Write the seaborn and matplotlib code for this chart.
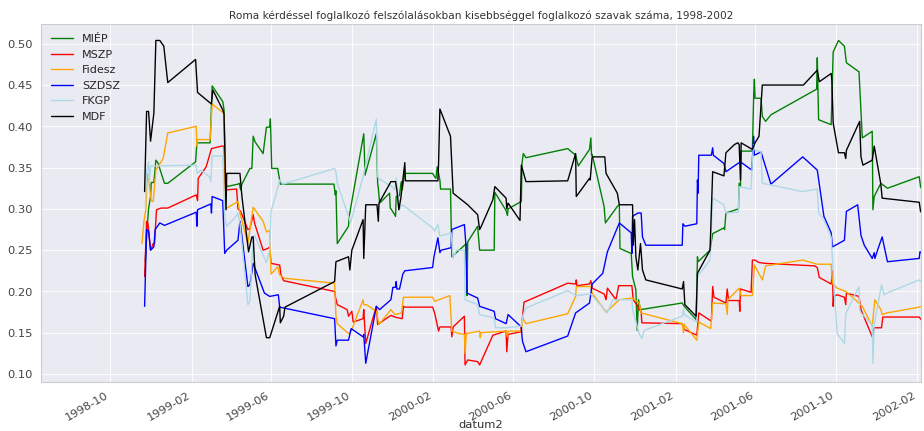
import pandas as pd
import matplotlib
matplotlib.use("Agg")
import matplotlib.pyplot as plt
import matplotlib.dates as mdates
import seaborn as sns

# szavak aranya partonkent, datum szerint (leolvasott ertekek)
miep_dates = ["1998-11-23", "1998-11-26", "1998-11-28", "1998-12-01", "1998-12-02", "1998-12-06", "1998-12-09",
              "1998-12-12", "1998-12-22", "1998-12-27", "1999-02-07", "1999-02-09", "1999-03-01", "1999-03-04",
              "1999-03-20", "1999-03-22", "1999-03-24", "1999-03-26", "1999-04-12", "1999-04-14", "1999-04-16",
              "1999-04-18", "1999-04-30", "1999-05-03", "1999-05-05", "1999-05-08", "1999-05-20", "1999-05-25",
              "1999-05-30", "1999-05-31", "1999-06-02", "1999-06-11", "1999-06-14", "1999-06-15", "1999-09-04",
              "1999-09-06", "1999-09-07", "1999-09-09", "1999-09-26", "1999-09-27", "1999-10-19", "1999-10-21",
              "1999-11-07", "1999-11-09", "1999-11-10", "1999-11-12", "1999-11-27", "1999-11-28", "1999-11-30",
              "1999-12-03", "1999-12-05", "1999-12-06", "1999-12-07", "1999-12-12", "1999-12-14", "1999-12-15",
              "1999-12-16", "1999-12-20", "2000-01-31", "2000-02-03", "2000-02-05", "2000-02-07", "2000-02-11",
              "2000-02-12", "2000-02-27", "2000-02-29", "2000-03-22", "2000-03-23", "2000-03-24", "2000-04-08",
              "2000-04-11", "2000-05-03", "2000-05-04", "2000-05-21", "2000-05-23", "2000-05-24", "2000-06-13",
              "2000-06-14", "2000-06-16", "2000-06-20", "2000-08-22", "2000-09-03", "2000-09-07", "2000-09-24",
              "2000-09-26", "2000-09-27", "2000-09-28", "2000-10-16", "2000-10-18", "2000-11-05", "2000-11-08",
              "2000-11-09", "2000-11-26", "2000-11-28", "2000-12-03", "2000-12-05", "2000-12-07", "2000-12-10",
              "2001-02-11", "2001-02-14", "2001-03-04", "2001-03-06", "2001-03-07", "2001-03-25", "2001-03-29",
              "2001-04-15", "2001-04-16", "2001-04-18", "2001-05-07", "2001-05-08", "2001-05-10", "2001-05-11",
              "2001-05-28", "2001-05-30", "2001-05-31", "2001-06-01", "2001-06-10", "2001-06-12", "2001-06-17",
              "2001-06-25", "2001-09-02", "2001-09-03", "2001-09-05", "2001-09-24", "2001-09-27", "2001-10-05",
              "2001-10-14", "2001-10-17", "2001-11-05", "2001-11-08", "2001-11-10", "2001-11-25", "2001-11-26",
              "2001-11-28", "2001-12-08", "2001-12-18", "2002-02-04", "2002-02-06", "2002-02-07"]
miep_vals = [0.236, 0.280, 0.300, 0.315, 0.332, 0.332, 0.359, 0.356, 0.331, 0.331, 0.357, 0.380, 0.380, 0.449,
             0.430, 0.420, 0.343, 0.327, 0.330, 0.331, 0.323, 0.330, 0.349, 0.349, 0.388, 0.381, 0.367, 0.399,
             0.399, 0.409, 0.349, 0.349, 0.335, 0.330, 0.330, 0.317, 0.322, 0.258, 0.279, 0.291, 0.391, 0.341,
             0.391, 0.331, 0.325, 0.307, 0.319, 0.301, 0.299, 0.295, 0.293, 0.291, 0.315, 0.316, 0.330, 0.333,
             0.323, 0.343, 0.343, 0.339, 0.337, 0.351, 0.335, 0.324, 0.324, 0.242, 0.258, 0.195, 0.260, 0.279,
             0.250, 0.250, 0.320, 0.298, 0.292, 0.300, 0.309, 0.355, 0.367, 0.362, 0.373, 0.365, 0.352, 0.372,
             0.386, 0.365, 0.366, 0.303, 0.283, 0.303, 0.305, 0.252, 0.246, 0.218, 0.202, 0.153, 0.190, 0.178,
             0.186, 0.182, 0.166, 0.242, 0.236, 0.250, 0.270, 0.277, 0.275, 0.295, 0.300, 0.331, 0.327, 0.370,
             0.370, 0.440, 0.457, 0.434, 0.434, 0.412, 0.406, 0.414, 0.445, 0.483, 0.408, 0.402, 0.490, 0.504,
             0.497, 0.477, 0.466, 0.418, 0.386, 0.394, 0.299, 0.315, 0.331, 0.325, 0.339, 0.327, 0.325]

mszp_dates = ["1998-11-22", "1998-11-25", "1998-11-27", "1998-12-01", "1998-12-05", "1998-12-07", "1998-12-10",
              "1998-12-17", "1998-12-27", "1999-02-08", "1999-02-10", "1999-02-11", "1999-02-23", "1999-03-03",
              "1999-03-18", "1999-03-22", "1999-03-24", "1999-04-10", "1999-04-12", "1999-04-16", "1999-04-27",
              "1999-04-30", "1999-05-05", "1999-05-07", "1999-05-20", "1999-05-27", "1999-05-30", "1999-06-01",
              "1999-06-14", "1999-06-16", "1999-06-20", "1999-09-05", "1999-09-06", "1999-09-09", "1999-09-24",
              "1999-09-26", "1999-10-01", "1999-10-03", "1999-10-18", "1999-10-19", "1999-10-22", "1999-11-07",
              "1999-11-09", "1999-11-29", "1999-12-05", "1999-12-16", "1999-12-18", "1999-12-20", "2000-01-31",
              "2000-02-03", "2000-02-09", "2000-02-11", "2000-02-28", "2000-02-29", "2000-03-02", "2000-03-11",
              "2000-03-19", "2000-03-20", "2000-03-24", "2000-04-08", "2000-04-11", "2000-05-01", "2000-05-21",
              "2000-05-22", "2000-05-24", "2000-06-12", "2000-06-14", "2000-06-17", "2000-08-22", "2000-09-03",
              "2000-09-04", "2000-09-05", "2000-09-24", "2000-09-26", "2000-09-28", "2000-10-16", "2000-10-19",
              "2000-10-21", "2000-11-03", "2000-11-07", "2000-11-27", "2000-11-29", "2000-12-06", "2000-12-08",
              "2000-12-11", "2000-12-12", "2001-02-11", "2001-02-14", "2001-03-05", "2001-03-08", "2001-03-27",
              "2001-03-29", "2001-03-31", "2001-04-18", "2001-04-20", "2001-04-22", "2001-05-08", "2001-05-09",
              "2001-05-10", "2001-05-26", "2001-05-28", "2001-06-01", "2001-06-07", "2001-06-17", "2001-08-30",
              "2001-09-03", "2001-09-06", "2001-09-24", "2001-09-26", "2001-09-27", "2001-09-28", "2001-10-03",
              "2001-10-14", "2001-10-16", "2001-10-17", "2001-11-05", "2001-11-08", "2001-11-25", "2001-11-28",
              "2001-12-09", "2001-12-11", "2002-02-04", "2002-02-07"]
mszp_vals = [0.218, 0.285, 0.283, 0.250, 0.258, 0.258, 0.299, 0.301, 0.301, 0.317, 0.310, 0.337, 0.351, 0.373,
             0.376, 0.376, 0.323, 0.324, 0.300, 0.297, 0.275, 0.276, 0.293, 0.283, 0.250, 0.252, 0.254, 0.234,
             0.232, 0.220, 0.213, 0.200, 0.194, 0.184, 0.178, 0.170, 0.176, 0.163, 0.167, 0.178, 0.137, 0.182,
             0.160, 0.171, 0.169, 0.167, 0.182, 0.181, 0.181, 0.174, 0.152, 0.157, 0.157, 0.145, 0.157, 0.164,
             0.170, 0.111, 0.117, 0.115, 0.111, 0.147, 0.152, 0.127, 0.148, 0.151, 0.163, 0.187, 0.210, 0.209,
             0.214, 0.207, 0.209, 0.213, 0.204, 0.197, 0.190, 0.204, 0.190, 0.207, 0.207, 0.190, 0.182, 0.178,
             0.176, 0.162, 0.161, 0.154, 0.147, 0.174, 0.164, 0.206, 0.193, 0.186, 0.203, 0.189, 0.189, 0.176,
             0.203, 0.199, 0.238, 0.238, 0.235, 0.234, 0.231, 0.229, 0.217, 0.209, 0.225, 0.182, 0.194, 0.196,
             0.193, 0.184, 0.198, 0.194, 0.178, 0.145, 0.156, 0.156, 0.169, 0.169, 0.166]

fidesz_dates = ["1998-11-18", "1998-11-21", "1998-11-24", "1998-11-26", "1998-11-29", "1998-12-02", "1998-12-05",
                "1998-12-09", "1998-12-20", "1998-12-27", "1999-02-08", "1999-02-09", "1999-02-10", "1999-03-01",
                "1999-03-04", "1999-03-20", "1999-03-22", "1999-03-24", "1999-04-12", "1999-04-15", "1999-04-27",
                "1999-05-05", "1999-05-20", "1999-05-25", "1999-05-30", "1999-06-01", "1999-06-11", "1999-06-14",
                "1999-06-21", "1999-09-05", "1999-09-07", "1999-09-09", "1999-09-26", "1999-09-30", "1999-10-18",
                "1999-10-19", "1999-10-23", "1999-11-07", "1999-11-11", "1999-11-29", "1999-12-05", "1999-12-15",
                "1999-12-18", "2000-01-31", "2000-02-03", "2000-02-26", "2000-02-29", "2000-03-11", "2000-03-19",
                "2000-03-20", "2000-03-22", "2000-04-11", "2000-04-12", "2000-04-13", "2000-05-21", "2000-05-23",
                "2000-05-24", "2000-06-13", "2000-06-15", "2000-06-20", "2000-08-22", "2000-09-03", "2000-09-04",
                "2000-09-26", "2000-09-28", "2000-10-19", "2000-11-08", "2000-11-27", "2000-12-01", "2000-12-08",
                "2000-12-11", "2001-02-11", "2001-02-13", "2001-02-14", "2001-03-05", "2001-03-08", "2001-03-26",
                "2001-03-29", "2001-04-18", "2001-04-20", "2001-04-21", "2001-05-08", "2001-05-11", "2001-05-28",
                "2001-05-31", "2001-06-12", "2001-06-17", "2001-08-12", "2001-09-03", "2001-09-24", "2001-09-26",
                "2001-10-03", "2001-10-16", "2001-11-05", "2001-11-10", "2001-11-25", "2001-11-29", "2001-12-08",
                "2001-12-10", "2001-12-17", "2002-02-04", "2002-02-07"]
fidesz_vals = [0.258, 0.285, 0.300, 0.343, 0.330, 0.310, 0.309, 0.347, 0.361, 0.392, 0.400, 0.376, 0.384, 0.384,
               0.427, 0.417, 0.415, 0.300, 0.309, 0.295, 0.258, 0.302, 0.285, 0.272, 0.274, 0.221, 0.230, 0.220,
               0.216, 0.210, 0.170, 0.161, 0.149, 0.152, 0.190, 0.184, 0.184, 0.176, 0.160, 0.178, 0.172, 0.174,
               0.193, 0.193, 0.188, 0.195, 0.152, 0.149, 0.148, 0.125, 0.149, 0.152, 0.144, 0.150, 0.152, 0.145,
               0.152, 0.152, 0.168, 0.161, 0.173, 0.194, 0.206, 0.206, 0.198, 0.175, 0.190, 0.192, 0.190, 0.186,
               0.174, 0.161, 0.150, 0.160, 0.141, 0.163, 0.155, 0.186, 0.185, 0.172, 0.190, 0.204, 0.195, 0.195,
               0.232, 0.214, 0.231, 0.238, 0.233, 0.233, 0.210, 0.204, 0.200, 0.186, 0.182, 0.158, 0.190, 0.178,
               0.172, 0.174, 0.181, 0.182]

szdsz_dates = ["1998-11-22", "1998-11-25", "1998-11-28", "1998-12-01", "1998-12-06", "1998-12-08", "1998-12-15",
               "1998-12-22", "1999-02-08", "1999-02-09", "1999-02-10", "1999-03-02", "1999-03-03", "1999-03-04",
               "1999-03-20", "1999-03-23", "1999-03-26", "1999-04-12", "1999-04-15", "1999-04-16", "1999-04-27",
               "1999-04-30", "1999-05-05", "1999-05-22", "1999-05-30", "1999-06-12", "1999-06-14", "1999-09-05",
               "1999-09-07", "1999-09-09", "1999-09-26", "1999-09-30", "1999-10-18", "1999-10-19", "1999-10-22",
               "1999-11-07", "1999-11-12", "1999-11-29", "1999-12-02", "1999-12-06", "1999-12-07", "1999-12-08",
               "1999-12-12", "1999-12-17", "1999-12-20", "2000-01-31", "2000-02-02", "2000-02-08", "2000-02-11",
               "2000-02-13", "2000-02-28", "2000-02-29", "2000-03-19", "2000-03-21", "2000-03-23", "2000-04-08",
               "2000-04-11", "2000-05-03", "2000-05-05", "2000-05-21", "2000-05-24", "2000-06-13", "2000-06-14",
               "2000-06-15", "2000-06-20", "2000-08-22", "2000-09-03", "2000-09-24", "2000-09-28", "2000-10-14",
               "2000-10-21", "2000-11-08", "2000-11-26", "2000-11-27", "2000-11-28", "2000-12-06", "2000-12-11",
               "2000-12-13", "2000-12-18", "2001-02-11", "2001-02-12", "2001-02-15", "2001-03-05", "2001-03-06",
               "2001-03-07", "2001-03-08", "2001-03-27", "2001-03-29", "2001-03-30", "2001-04-15", "2001-04-18",
               "2001-05-06", "2001-05-10", "2001-05-27", "2001-05-30", "2001-05-31", "2001-06-10", "2001-06-25",
               "2001-08-12", "2001-09-03", "2001-09-13", "2001-09-24", "2001-09-25", "2001-09-26", "2001-10-14",
               "2001-10-17", "2001-11-03", "2001-11-08", "2001-11-13", "2001-11-25", "2001-11-28", "2001-11-29",
               "2001-12-03", "2001-12-10", "2001-12-18", "2002-02-04", "2002-02-05", "2002-02-07"]
szdsz_vals = [0.182, 0.275, 0.273, 0.250, 0.254, 0.275, 0.283, 0.280, 0.296, 0.279, 0.299, 0.306, 0.295, 0.315,
              0.310, 0.246, 0.250, 0.262, 0.285, 0.280, 0.206, 0.208, 0.234, 0.198, 0.194, 0.196, 0.181, 0.167,
              0.134, 0.141, 0.141, 0.155, 0.145, 0.148, 0.113, 0.182, 0.178, 0.190, 0.205, 0.205, 0.212, 0.203,
              0.203, 0.221, 0.225, 0.229, 0.242, 0.265, 0.247, 0.250, 0.253, 0.275, 0.281, 0.260, 0.198, 0.192,
              0.182, 0.176, 0.167, 0.161, 0.172, 0.157, 0.145, 0.139, 0.127, 0.146, 0.174, 0.186, 0.209, 0.222,
              0.248, 0.283, 0.271, 0.246, 0.291, 0.295, 0.295, 0.266, 0.256, 0.256, 0.282, 0.279, 0.282, 0.335,
              0.319, 0.365, 0.365, 0.374, 0.365, 0.355, 0.345, 0.355, 0.357, 0.347, 0.388, 0.365, 0.369, 0.330,
              0.363, 0.347, 0.291, 0.271, 0.262, 0.254, 0.262, 0.297, 0.305, 0.268, 0.256, 0.240, 0.247, 0.240,
              0.250, 0.266, 0.236, 0.240, 0.248, 0.247]

fkgp_dates = ["1998-11-23", "1998-11-25", "1998-11-28", "1998-11-29", "1998-12-01", "1998-12-07", "1999-02-08",
              "1999-02-09", "1999-02-10", "1999-02-15", "1999-02-28", "1999-03-02", "1999-03-04", "1999-03-20",
              "1999-03-23", "1999-03-26", "1999-04-07", "1999-04-12", "1999-04-15", "1999-04-27", "1999-04-30",
              "1999-05-05", "1999-05-07", "1999-05-25", "1999-05-30", "1999-06-01", "1999-06-09", "1999-06-14",
              "1999-06-19", "1999-09-05", "1999-09-07", "1999-09-09", "1999-09-26", "1999-09-29", "1999-10-18",
              "1999-11-07", "1999-11-09", "1999-11-12", "1999-11-29", "1999-12-05", "1999-12-07", "1999-12-12",
              "1999-12-15", "1999-12-20", "2000-01-31", "2000-02-03", "2000-02-08", "2000-02-11", "2000-02-28",
              "2000-03-02", "2000-03-07", "2000-03-19", "2000-03-20", "2000-04-08", "2000-04-11", "2000-05-03",
              "2000-05-05", "2000-05-21", "2000-06-13", "2000-06-15", "2000-06-20", "2000-08-22", "2000-09-03",
              "2000-09-26", "2000-10-19", "2000-10-21", "2000-10-29", "2000-11-08", "2000-11-27", "2000-11-28",
              "2000-12-08", "2000-12-12", "2000-12-16", "2001-02-11", "2001-02-13", "2001-02-14", "2001-03-05",
              "2001-03-06", "2001-03-25", "2001-03-29", "2001-04-15", "2001-04-18", "2001-05-07", "2001-05-08",
              "2001-05-26", "2001-05-28", "2001-05-30", "2001-06-01", "2001-06-10", "2001-06-12", "2001-08-12",
              "2001-09-03", "2001-09-05", "2001-09-13", "2001-09-24", "2001-09-26", "2001-09-28", "2001-10-03",
              "2001-10-14", "2001-10-16", "2001-11-05", "2001-11-06", "2001-11-08", "2001-11-25", "2001-11-26",
              "2001-11-28", "2001-12-09", "2001-12-13", "2001-12-17", "2002-02-04", "2002-02-07"]
fkgp_vals = [0.300, 0.345, 0.357, 0.331, 0.352, 0.352, 0.353, 0.345, 0.343, 0.347, 0.339, 0.333, 0.364, 0.364,
             0.291, 0.279, 0.289, 0.295, 0.283, 0.184, 0.188, 0.266, 0.268, 0.235, 0.250, 0.297, 0.319, 0.335,
             0.330, 0.349, 0.345, 0.331, 0.291, 0.283, 0.339, 0.409, 0.339, 0.336, 0.328, 0.323, 0.337, 0.299,
             0.305, 0.303, 0.277, 0.273, 0.281, 0.267, 0.271, 0.240, 0.250, 0.250, 0.190, 0.184, 0.172, 0.168,
             0.156, 0.156, 0.158, 0.170, 0.180, 0.201, 0.195, 0.197, 0.176, 0.174, 0.190, 0.190, 0.190, 0.178,
             0.149, 0.143, 0.153, 0.170, 0.178, 0.172, 0.163, 0.218, 0.238, 0.313, 0.305, 0.295, 0.296, 0.327,
             0.324, 0.360, 0.378, 0.371, 0.369, 0.331, 0.321, 0.324, 0.295, 0.287, 0.266, 0.238, 0.210, 0.149,
             0.137, 0.173, 0.206, 0.178, 0.174, 0.160, 0.113, 0.160, 0.208, 0.196, 0.198, 0.214, 0.212]

mdf_dates = ["1998-11-22", "1998-11-25", "1998-11-28", "1998-12-01", "1998-12-06", "1998-12-09", "1998-12-15",
             "1998-12-21", "1998-12-27", "1999-02-07", "1999-02-10", "1999-03-03", "1999-03-05", "1999-03-20",
             "1999-03-22", "1999-03-25", "1999-03-26", "1999-04-15", "1999-04-18", "1999-04-28", "1999-05-03",
             "1999-05-05", "1999-05-08", "1999-05-25", "1999-05-30", "1999-06-14", "1999-06-15", "1999-06-20",
             "1999-06-22", "1999-09-05", "1999-09-07", "1999-09-26", "1999-09-28", "1999-10-01", "1999-10-18",
             "1999-10-19", "1999-10-22", "1999-11-08", "1999-11-10", "1999-11-11", "1999-11-29", "1999-12-06",
             "1999-12-08", "1999-12-11", "1999-12-14", "1999-12-20", "1999-12-21", "2000-02-08", "2000-02-09",
             "2000-02-11", "2000-02-27", "2000-03-02", "2000-03-24", "2000-04-08", "2000-04-11", "2000-04-13",
             "2000-05-01", "2000-05-04", "2000-05-21", "2000-05-22", "2000-05-24", "2000-06-11", "2000-06-13",
             "2000-06-20", "2000-08-22", "2000-09-03", "2000-09-04", "2000-09-24", "2000-09-25", "2000-09-28",
             "2000-10-17", "2000-10-19", "2000-11-05", "2000-11-08", "2000-11-28", "2000-11-29", "2000-12-01",
             "2000-12-03", "2000-12-06", "2000-12-10", "2000-12-13", "2000-12-18", "2001-02-11", "2001-02-13",
             "2001-02-15", "2001-03-04", "2001-03-06", "2001-03-25", "2001-03-29", "2001-04-15", "2001-04-18",
             "2001-05-01", "2001-05-06", "2001-05-08", "2001-05-10", "2001-05-11", "2001-05-28", "2001-06-01",
             "2001-06-07", "2001-06-12", "2001-08-13", "2001-09-03", "2001-09-06", "2001-09-24", "2001-09-25",
             "2001-09-27", "2001-10-05", "2001-10-14", "2001-10-16", "2001-10-17", "2001-11-06", "2001-11-08",
             "2001-11-11", "2001-11-25", "2001-11-28", "2001-12-08", "2001-12-10", "2002-02-04", "2002-02-06",
             "2002-02-07"]
mdf_vals = [0.321, 0.418, 0.418, 0.382, 0.416, 0.504, 0.504, 0.497, 0.453, 0.481, 0.441, 0.427, 0.444, 0.420,
            0.415, 0.299, 0.343, 0.343, 0.315, 0.248, 0.266, 0.266, 0.220, 0.144, 0.144, 0.182, 0.162, 0.170,
            0.181, 0.212, 0.236, 0.242, 0.226, 0.250, 0.287, 0.240, 0.305, 0.305, 0.285, 0.307, 0.333, 0.333,
            0.323, 0.299, 0.313, 0.356, 0.334, 0.334, 0.355, 0.421, 0.388, 0.319, 0.305, 0.293, 0.275, 0.278,
            0.311, 0.327, 0.313, 0.300, 0.307, 0.286, 0.353, 0.333, 0.334, 0.367, 0.315, 0.337, 0.335, 0.363,
            0.363, 0.343, 0.319, 0.305, 0.305, 0.256, 0.287, 0.242, 0.226, 0.258, 0.226, 0.214, 0.203, 0.212,
            0.184, 0.170, 0.222, 0.250, 0.345, 0.340, 0.368, 0.378, 0.380, 0.378, 0.335, 0.380, 0.372, 0.380,
            0.388, 0.450, 0.450, 0.468, 0.454, 0.464, 0.456, 0.404, 0.368, 0.368, 0.361, 0.371, 0.406, 0.363,
            0.353, 0.359, 0.376, 0.330, 0.313, 0.308, 0.297, 0.296]

parties = ["MIÉP", "MSZP", "Fidesz", "SZDSZ", "FKGP", "MDF"]
colors = ["green", "red", "orange", "blue", "lightblue", "black"]
all_dates = [miep_dates, mszp_dates, fidesz_dates, szdsz_dates, fkgp_dates, mdf_dates]
all_vals = [miep_vals, mszp_vals, fidesz_vals, szdsz_vals, fkgp_vals, mdf_vals]

sns.set_theme(style="darkgrid")
plt.rcParams["font.family"] = ["DejaVu Sans"]

fig, ax = plt.subplots(figsize=(15, 7), dpi=61.6)
for name, d, v, c in zip(parties, all_dates, all_vals, colors):
    sns.lineplot(x=pd.to_datetime(d), y=v, color=c, label=name, ax=ax, linewidth=1.6)

ax.set_xlim(pd.Timestamp("1998-06-18"), pd.Timestamp("2002-02-07"))
ax.set_ylim(0.09, 0.524)
ax.xaxis.set_major_locator(mdates.MonthLocator(bymonth=[2, 6, 10]))
ax.xaxis.set_major_formatter(mdates.DateFormatter("%Y-%m"))
ax.tick_params(axis="both", labelsize=13.5, colors="#444444")
for lbl in ax.get_xticklabels():
    lbl.set_rotation(30)
    lbl.set_ha("right")
for s in ax.spines.values():
    s.set_color("#cccccc")

ax.set_xlabel("datum2", fontsize=13.5, color="#333333")
ax.xaxis.set_label_coords(0.5, -0.105)
ax.set_title("Roma kérdéssel foglalkozó felszólalásokban kisebbséggel foglalkozó szavak száma, 1998-2002",
             fontsize=12.3, color="#333333")
ax.legend(loc="upper left", frameon=False, fontsize=13)

fig.subplots_adjust(left=0.044, right=0.997, bottom=0.113, top=0.944)
fig.savefig("out.png", dpi=61.6)
